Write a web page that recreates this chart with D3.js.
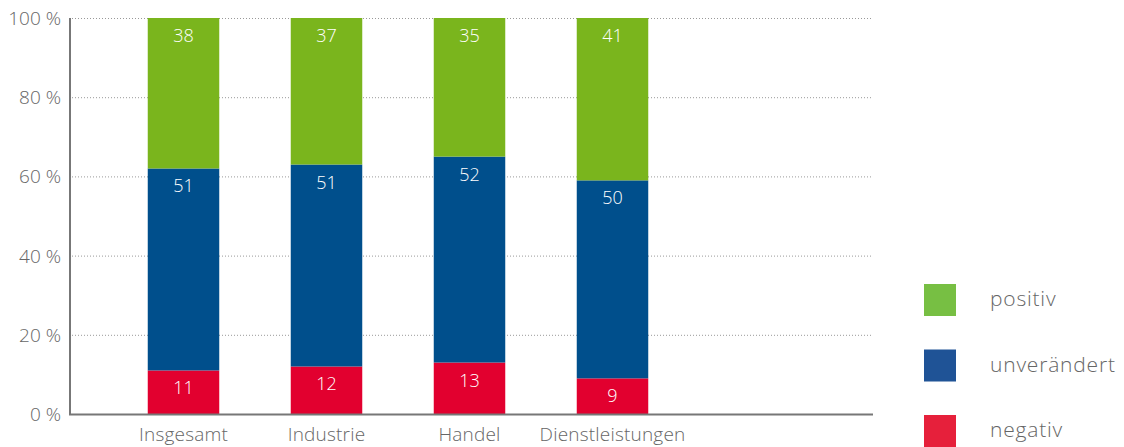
<!DOCTYPE html>
<html>
<head>
<meta charset="utf-8">
<script src="https://cdn.jsdelivr.net/npm/d3@7"></script>
<style>
  body { margin: 0; background: #fff; }
  text { font-family: "Open Sans", "DejaVu Sans", sans-serif; font-weight: 300; }
</style>
</head>
<body>
<div id="vis"></div>
<script>
// chart data
var categories = ['Insgesamt', 'Industrie', 'Handel', 'Dienstleistungen'];
var negativ = [11, 12, 13, 9];
var unveraendert = [51, 51, 52, 50];
var positiv = [38, 37, 35, 41];
var seriesNames = ['negativ', 'unverändert', 'positiv'];
var yTicks = [0, 20, 40, 60, 80, 100];

var barColors = ['#e2002f', '#004f8c', '#7ab51d'];
var legendColors = ['#e6203b', '#1f5396', '#77bf43'];

var svgWidth = 1124, svgHeight = 447;
var svg = d3.select('#vis').append('svg')
  .attr('width', svgWidth)
  .attr('height', svgHeight);

var plot = {left: 70, right: 873, top: 18, bottom: 414};

var xScale = d3.scaleBand().domain(categories)
  .range([112, 684]).paddingInner(0.5).paddingOuter(0.25);
var yScale = d3.scaleLinear().domain([0, 100]).range([plot.bottom, plot.top]);

// dotted gridlines
svg.selectAll('.grid')
  .data(yTicks.filter(function (d) { return d > 0; }))
  .enter().append('line')
  .attr('x1', plot.left + 2)
  .attr('x2', plot.right)
  .attr('y1', function (d) { return yScale(d) + 0.5; })
  .attr('y2', function (d) { return yScale(d) + 0.5; })
  .attr('stroke', '#999')
  .attr('stroke-width', 1)
  .attr('stroke-dasharray', '1,2');

// y tick labels
svg.selectAll('.ylab')
  .data(yTicks)
  .enter().append('text')
  .attr('x', 61)
  .attr('y', function (d) { return yScale(d) + 7; })
  .attr('text-anchor', 'end')
  .attr('fill', '#666')
  .style('font-size', '19px')
  .text(function (d) { return d + ' %'; });

// stacked data
var rows = categories.map(function (c, i) {
  return {cat: c, negativ: negativ[i], 'unverändert': unveraendert[i], positiv: positiv[i]};
});
var stack = d3.stack().keys(seriesNames)(rows);

var layers = svg.selectAll('.layer')
  .data(stack)
  .enter().append('g')
  .attr('fill', function (d, i) { return barColors[i]; });

layers.selectAll('rect')
  .data(function (d) { return d; })
  .enter().append('rect')
  .attr('x', function (d) { return xScale(d.data.cat); })
  .attr('width', xScale.bandwidth())
  .attr('y', function (d) { return yScale(d[1]); })
  .attr('height', function (d) { return yScale(d[0]) - yScale(d[1]); });

layers.selectAll('.val')
  .data(function (d) { return d; })
  .enter().append('text')
  .attr('x', function (d) { return xScale(d.data.cat) + xScale.bandwidth() / 2; })
  .attr('y', function (d) { return yScale(d[1]) + 24; })
  .attr('text-anchor', 'middle')
  .attr('fill', '#fff')
  .style('font-size', '18px')
  .text(function (d) { return d[1] - d[0]; });

// axes lines
svg.append('line')
  .attr('x1', plot.left).attr('x2', plot.left)
  .attr('y1', plot.top).attr('y2', plot.bottom + 1)
  .attr('stroke', '#777').attr('stroke-width', 2);
svg.append('line')
  .attr('x1', plot.left - 1).attr('x2', plot.right)
  .attr('y1', plot.bottom + 0.5).attr('y2', plot.bottom + 0.5)
  .attr('stroke', '#777').attr('stroke-width', 2);

// category labels
svg.selectAll('.xlab')
  .data(categories)
  .enter().append('text')
  .attr('x', function (d) { return xScale(d) + xScale.bandwidth() / 2; })
  .attr('y', 441)
  .attr('text-anchor', 'middle')
  .attr('fill', '#666')
  .style('font-size', '19px')
  .style('letter-spacing', '0.2px')
  .text(function (d) { return d; });

// legend (positiv on top)
var legendOrder = [2, 1, 0];
var legend = svg.selectAll('.legend')
  .data(legendOrder)
  .enter().append('g')
  .attr('transform', function (d, i) { return 'translate(924,' + (284 + i * 65.5) + ')'; });

legend.append('rect')
  .attr('width', 32).attr('height', 32)
  .attr('fill', function (d) { return legendColors[d]; });

legend.append('text')
  .attr('x', 66).attr('y', 22)
  .attr('fill', '#666')
  .style('font-size', '21px')
  .style('letter-spacing', '0.8px')
  .text(function (d) { return seriesNames[d]; });
</script>
</body>
</html>
